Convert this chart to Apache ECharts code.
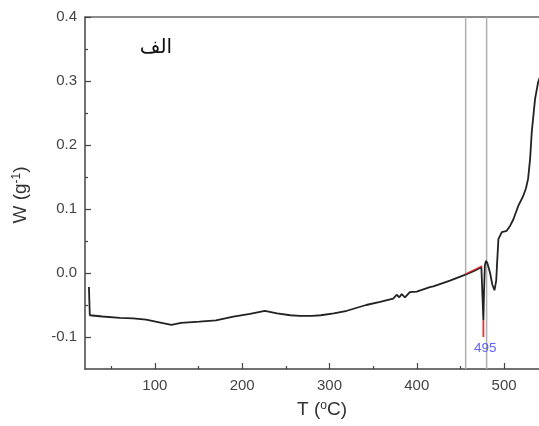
<!DOCTYPE html>
<html>
<head>
<meta charset="utf-8">
<script src="https://cdn.jsdelivr.net/npm/echarts@6/dist/echarts.min.js"></script>
<style>html,body{margin:0;padding:0;background:#fff;}#c{width:539px;height:426px;}</style>
</head>
<body>
<div id="c"></div>
<script>
// Temperature (°C) and heat flow W (g^-1)
var temps = [24.5,25.5,27.5,40,60,75,90,105,119,130,151,170,190,209,226,240,255,266,280,290,305,320,342,358,373,377,380,382.7,386.5,392,400,415,419,438,455,465,474,475.8,476.3,477,478,479.2,481,484,486.5,489,491,491.8,493.5,497.4,503,507,510.7,516,521.8,525,527.5,529.8,531.7,535.5,539,541];
var wValues = [-0.022,-0.066,-0.067,-0.068,-0.070,-0.071,-0.073,-0.077,-0.081,-0.078,-0.076,-0.074,-0.068,-0.064,-0.059,-0.063,-0.066,-0.067,-0.067,-0.066,-0.063,-0.059,-0.050,-0.045,-0.040,-0.034,-0.038,-0.033,-0.038,-0.030,-0.029,-0.022,-0.021,-0.012,-0.003,0.003,0.009,0.011,-0.074,-0.030,0.012,0.019,0.015,0.000,-0.018,-0.027,-0.012,0.010,0.053,0.064,0.066,0.074,0.084,0.104,0.120,0.132,0.147,0.178,0.220,0.272,0.298,0.306];
var tangentT = [455, 475];
var tangentW = [-0.002, 0.011];
var spikeT = [476.3, 476.3];
var spikeW = [-0.074, -0.100];
var vLinesT = [456, 480];
var peakLabel = '495';
var peakLabelT = 478.5, peakLabelW = -0.117;
var xMajor = [100, 200, 300, 400, 500];
var xMinor = [50, 150, 250, 350, 450];
var yMajor = [-0.1, 0.0, 0.1, 0.2, 0.3, 0.4];
var yMinor = [-0.05, 0.05, 0.15, 0.25, 0.35];
var xMin = 20, xMax = 540, yMin = -0.15, yMax = 0.4;

function zip(a, b) { return a.map(function (v, i) { return [v, b[i]]; }); }

var axisCol = '#444';
var font = 'Liberation Sans, Arial, sans-serif';

var chart = echarts.init(document.getElementById('c'), null, {renderer: 'canvas'});
var vSeries = vLinesT.map(function (t) {
  return {
    type: 'line', xAxisIndex: 0, yAxisIndex: 0, data: [[t, yMin], [t, yMax]],
    symbol: 'none', lineStyle: {color: '#b0b0b0', width: 1.5}, silent: true, z: 1
  };
});
chart.setOption({
  animation: false,
  backgroundColor: '#fff',
  grid: {left: 85, right: 0, top: 17, bottom: 57},
  xAxis: [
    {type: 'value', min: xMin, max: xMax, position: 'bottom',
     axisLine: {onZero: false, lineStyle: {color: axisCol, width: 1.5}},
     axisTick: {inside: true, length: 6, customValues: xMajor, lineStyle: {color: axisCol, width: 1.2}},
     axisLabel: {customValues: xMajor, color: '#444', fontSize: 15, fontFamily: font, margin: 9},
     splitLine: {show: false}},
    {type: 'value', min: xMin, max: xMax, position: 'bottom',
     axisLine: {show: false, onZero: false},
     axisTick: {inside: true, length: 3, customValues: xMinor, lineStyle: {color: axisCol, width: 1.2}},
     axisLabel: {show: false}, splitLine: {show: false}},
    {type: 'value', min: xMin, max: xMax, position: 'top',
     axisLine: {onZero: false, lineStyle: {color: '#666', width: 1.5}},
     axisTick: {show: false}, axisLabel: {show: false}, splitLine: {show: false}}
  ],
  yAxis: [
    {type: 'value', min: yMin, max: yMax, position: 'left',
     axisLine: {show: true, onZero: false, lineStyle: {color: axisCol, width: 1.5}},
     axisTick: {show: true, inside: true, length: 6, customValues: yMajor, lineStyle: {color: axisCol, width: 1.2}},
     axisLabel: {customValues: yMajor, color: '#444', fontSize: 15, fontFamily: font, margin: 8,
       formatter: function (v) { return v.toFixed(1); }},
     splitLine: {show: false}},
    {type: 'value', min: yMin, max: yMax, position: 'left',
     axisLine: {show: false, onZero: false},
     axisTick: {show: true, inside: true, length: 3, customValues: yMinor, lineStyle: {color: axisCol, width: 1.2}},
     axisLabel: {show: false}, splitLine: {show: false}}
  ],
  series: vSeries.concat([
    {type: 'line', xAxisIndex: 0, yAxisIndex: 0, data: zip(temps, wValues), symbol: 'none',
     lineStyle: {color: '#222', width: 1.8}, z: 3},
    {type: 'line', xAxisIndex: 0, yAxisIndex: 0, data: zip(tangentT, tangentW), symbol: 'none',
     lineStyle: {color: '#e03030', width: 1.3}, z: 4},
    {type: 'line', xAxisIndex: 0, yAxisIndex: 0, data: zip(spikeT, spikeW), symbol: 'none',
     lineStyle: {color: '#f03030', width: 1.8}, z: 4},
    {type: 'scatter', xAxisIndex: 0, yAxisIndex: 0, data: [[peakLabelT, peakLabelW]], symbolSize: 0,
     label: {show: true, position: 'inside', formatter: peakLabel, color: '#3a3aff', fontSize: 13.5, fontFamily: font}, z: 5}
  ]),
  graphic: [
    {type: 'text', x: 322, y: 410, style: {
      text: 'T ({sup|o}C)', fill: '#333', font: '19px ' + font, align: 'center', verticalAlign: 'middle',
      rich: {sup: {fontSize: 12, padding: [0, 0, 9, 0], fill: '#333'}}}},
    {type: 'text', x: 21, y: 195, rotation: Math.PI / 2, style: {
      text: 'W (g{sup|-1})', fill: '#333', font: '19px ' + font, align: 'center', verticalAlign: 'middle',
      rich: {sup: {fontSize: 12, padding: [0, 0, 9, 0], fill: '#333'}}}},
    {type: 'text', x: 156, y: 48, style: {
      text: 'الف', fill: '#111', font: '20px DejaVu Sans, sans-serif', align: 'center', verticalAlign: 'middle'}}
  ]
});
</script>
</body>
</html>
